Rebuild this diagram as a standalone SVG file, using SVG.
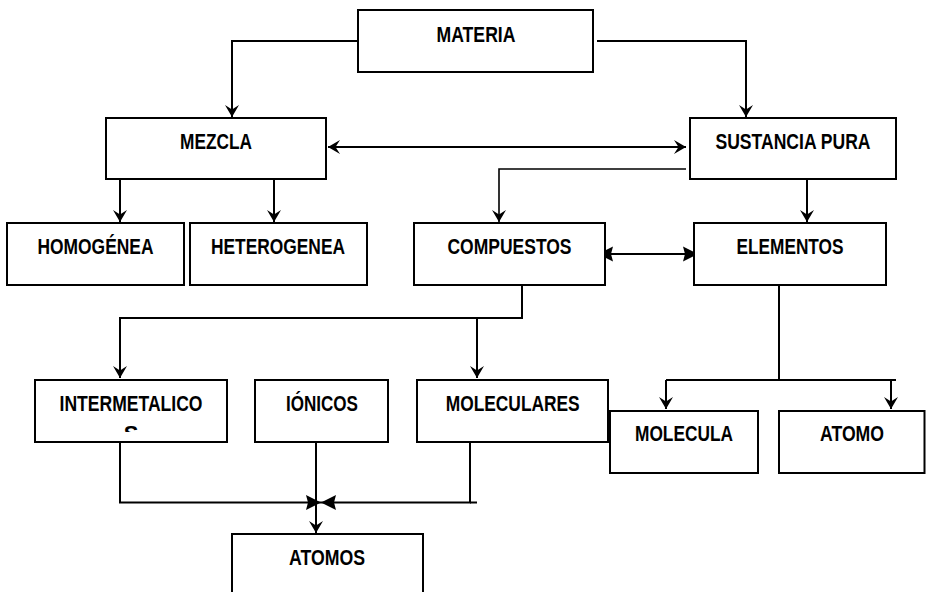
<svg xmlns="http://www.w3.org/2000/svg" width="926" height="592" viewBox="0 0 926 592">
<style>
.box{fill:#fff;stroke:#000;stroke-width:2}
.t{font-family:"Liberation Sans Narrow","Liberation Sans",Arial,sans-serif;font-weight:bold;font-size:22px;fill:#000;text-anchor:middle}
.c{fill:none;stroke:#000;stroke-width:2}
.thin{stroke-width:1.6}
</style>
<defs>
<marker id="s" viewBox="-13 -8 14 16" refX="0" refY="0" markerWidth="14" markerHeight="16" markerUnits="userSpaceOnUse" orient="auto-start-reverse">
<path d="M0,0 L-12,-7 L-7.5,0 L-12,7 Z" fill="#000"/>
</marker>
<marker id="L" viewBox="-16 -8 17 16" refX="0" refY="0" markerWidth="17" markerHeight="16" markerUnits="userSpaceOnUse" orient="auto-start-reverse">
<path d="M0,0 L-15,-7.5 L-13,0 L-15,7.5 Z" fill="#000"/>
</marker>
<clipPath id="clipInt"><rect x="35" y="380" width="192" height="52"/></clipPath>
</defs>
<rect width="926" height="592" fill="#fff"/>
<g id="connectors">
<path class="c" d="M358,41 H232 V117" marker-end="url(#s)"/>
<path class="c" d="M597,41 H746 V117" marker-end="url(#s)"/>
<path class="c" d="M328,147 H686" marker-start="url(#s)" marker-end="url(#s)"/>
<path class="c" d="M120,179 V222" marker-end="url(#s)"/>
<path class="c" d="M274,179 V222" marker-end="url(#s)"/>
<path class="c thin" d="M686,169 H499 V222" marker-end="url(#s)"/>
<path class="c" d="M807,179 V222" marker-end="url(#s)"/>
<path class="c" d="M598,254 H698" marker-start="url(#L)" marker-end="url(#L)"/>
<path class="c" d="M522,285 V318 H120 V378" marker-end="url(#s)"/>
<path class="c" d="M477,318 V378" marker-end="url(#s)"/>
<path class="c" d="M779,285 V380"/>
<path class="c" d="M666,380 H896"/>
<path class="c" d="M666,380 V409" marker-end="url(#s)"/>
<path class="c" d="M891,380 V409" marker-end="url(#s)"/>
<path class="c" d="M120,442 V502.5 H321" marker-end="url(#L)"/>
<path class="c" d="M470,442 V502.5 H321" marker-end="url(#L)"/>
<path class="c" d="M470,502.5 H477"/>
<path class="c" d="M316,442 V533" marker-end="url(#s)"/>
</g>
<g id="materia"><rect class="box" x="358" y="10" width="235" height="62"/><text class="t" x="476" y="42" textLength="79" lengthAdjust="spacingAndGlyphs">MATERIA</text></g>
<g id="mezcla"><rect class="box" x="106" y="118" width="220" height="61"/><text class="t" x="216" y="149" textLength="72" lengthAdjust="spacingAndGlyphs">MEZCLA</text></g>
<g id="sustancia"><rect class="box" x="690" y="118" width="206" height="61"/><text class="t" x="793" y="149" textLength="155" lengthAdjust="spacingAndGlyphs">SUSTANCIA PURA</text></g>
<g id="homogenea"><rect class="box" x="7" y="223" width="177" height="62"/><text class="t" x="95.5" y="254" textLength="116" lengthAdjust="spacingAndGlyphs">HOMOGÉNEA</text></g>
<g id="heterogenea"><rect class="box" x="190" y="223" width="177" height="62"/><text class="t" x="278" y="254" textLength="134" lengthAdjust="spacingAndGlyphs">HETEROGENEA</text></g>
<g id="compuestos"><rect class="box" x="414" y="223" width="191" height="62"/><text class="t" x="509.5" y="254" textLength="124" lengthAdjust="spacingAndGlyphs">COMPUESTOS</text></g>
<g id="elementos"><rect class="box" x="694" y="223" width="192" height="62"/><text class="t" x="790" y="254" textLength="107" lengthAdjust="spacingAndGlyphs">ELEMENTOS</text></g>
<g id="intermetalicos"><rect class="box" x="35" y="380" width="192" height="62"/><g clip-path="url(#clipInt)"><text class="t" x="131" y="411" textLength="143" lengthAdjust="spacingAndGlyphs">INTERMETALICO</text><text class="t" x="131" y="441">S</text></g></g>
<g id="ionicos"><rect class="box" x="255" y="380" width="133" height="62"/><text class="t" x="322" y="411" textLength="72" lengthAdjust="spacingAndGlyphs">IÓNICOS</text></g>
<g id="moleculares"><rect class="box" x="417" y="380" width="191" height="62"/><text class="t" x="512.7" y="411" textLength="134" lengthAdjust="spacingAndGlyphs">MOLECULARES</text></g>
<g id="molecula"><rect class="box" x="610" y="411" width="148" height="62"/><text class="t" x="684" y="441" textLength="98" lengthAdjust="spacingAndGlyphs">MOLECULA</text></g>
<g id="atomo"><rect class="box" x="779" y="411" width="145.5" height="62"/><text class="t" x="852" y="441" textLength="64" lengthAdjust="spacingAndGlyphs">ATOMO</text></g>
<g id="atomos"><rect class="box" x="232" y="534" width="191" height="70"/><text class="t" x="327" y="565" textLength="76" lengthAdjust="spacingAndGlyphs">ATOMOS</text></g>
</svg>
